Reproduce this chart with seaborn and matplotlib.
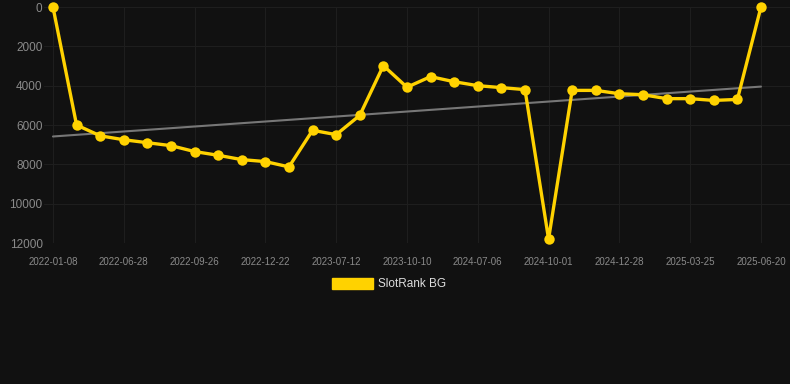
import matplotlib
matplotlib.use("Agg")
import matplotlib.pyplot as plt
import numpy as np
import pandas as pd
import seaborn as sns
from matplotlib.patches import Patch

# rank values (lower = better, axis inverted)
ranks = [0, 6000, 6550, 6750, 6900, 7050, 7350, 7540, 7760, 7860, 8130,
         6270, 6490, 5510, 2980, 4080, 3540, 3800, 4000, 4100, 4200,
         11800, 4240, 4240, 4410, 4460, 4660, 4660, 4750, 4700, 0]
tick_labels = ["2022-01-08", "2022-06-28", "2022-09-26", "2022-12-22",
               "2023-07-12", "2023-10-10", "2024-07-06", "2024-10-01",
               "2024-12-28", "2025-03-25", "2025-06-20"]
y_ticks = [0, 2000, 4000, 6000, 8000, 10000, 12000]
series_name = "SlotRank BG"

BG = "#111111"
GOLD = "#FFD200"

sns.set_theme(style="dark")
plt.rcParams["font.family"] = ["Liberation Sans", "DejaVu Sans"]

df = pd.DataFrame({"idx": np.arange(len(ranks)), "rank": ranks})
slope, intercept = np.polyfit(df["idx"], df["rank"], 1)
df["trend"] = intercept + slope * df["idx"]

fig = plt.figure(figsize=(7.9, 3.84), dpi=100, facecolor=BG)
ax = fig.add_axes([44 / 790, 1 - 243 / 384, 1 - 44 / 790, (243 - 7) / 384])
ax.set_facecolor(BG)

sns.lineplot(data=df, x="idx", y="trend", ax=ax, color="#777777", lw=1.5)
sns.lineplot(data=df, x="idx", y="rank", ax=ax, color=GOLD, lw=2.4,
             marker="o", markersize=7.5, markeredgewidth=0, clip_on=False)

ax.set_xlim(-0.38, len(ranks) - 1 + 1.23)
ax.set_ylim(12000, 0)
ax.set_yticks(y_ticks)
ax.set_yticklabels([str(v) for v in y_ticks])
ax.set_xticks(df["idx"][::3])
ax.set_xticklabels(tick_labels)
ax.tick_params(axis="x", colors="#8a8a8a", labelsize=7, length=5, width=0.6,
               pad=5)
ax.tick_params(axis="y", colors="#8a8a8a", labelsize=8.5, length=0, pad=1)
ax.tick_params(axis="x", color="#222222")
ax.grid(True, color="#1f1f1f", lw=0.7)
for s in ax.spines.values():
    s.set_visible(False)
ax.set_xlabel("")
ax.set_ylabel("")

handle = Patch(facecolor=GOLD, edgecolor=GOLD, label=series_name)
fig.legend(handles=[handle], loc="center", bbox_to_anchor=(0.493, 1 - 284 / 384),
           frameon=False, fontsize=8.5, labelcolor="#dddddd",
           handlelength=3.4, handleheight=1.1, handletextpad=0.5)

fig.savefig("out.png", dpi=100, facecolor=BG)
